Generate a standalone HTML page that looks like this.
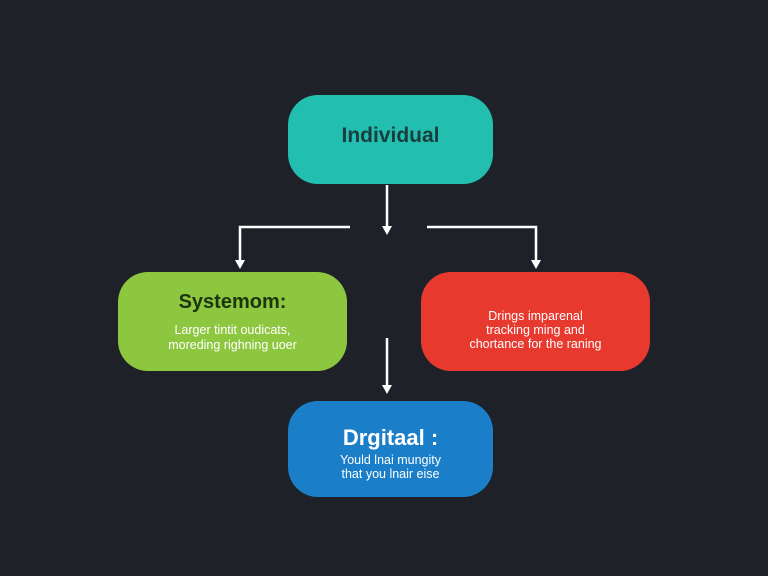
<!DOCTYPE html>
<html><head><style>
body{margin:0;width:768px;height:576px;background:#1e2228;position:relative;overflow:hidden;font-family:"Liberation Sans",sans-serif}
.b{position:absolute;border-radius:30px;text-align:center;box-sizing:border-box}
.t{font-weight:bold}
.s{font-size:12.5px;line-height:15px;color:#fff}
</style></head><body>
<svg width="768" height="576" style="position:absolute;left:0;top:0">
<g stroke="#fff" stroke-width="2.5" fill="none">
<line x1="387" y1="185" x2="387" y2="228"/>
<polyline points="350,227 240,227 240,262"/>
<polyline points="427,227 536,227 536,262"/>
<line x1="387" y1="338" x2="387" y2="388"/>
</g>
<g fill="#fff">
<polygon points="382,226 392,226 387,235"/>
<polygon points="235,260 245,260 240,269"/>
<polygon points="531,260 541,260 536,269"/>
<polygon points="382,385 392,385 387,394"/>
</g>
</svg>
<div class="b" style="left:288px;top:95px;width:205px;height:89px;background:#22bfb0">
<div class="t" style="font-size:21px;color:#1b3d3e;margin-top:29px">Individual</div></div>
<div class="b" style="left:118px;top:272px;width:229px;height:99px;background:#8dc63f">
<div class="t" style="font-size:20px;color:#1e3410;margin-top:19px">Systemom:</div>
<div class="s" style="margin-top:9px">Larger tintit oudicats,<br>moreding righning uoer</div></div>
<div class="b" style="left:421px;top:272px;width:229px;height:99px;background:#e8392f">
<div class="s" style="margin-top:37px;line-height:14px">Drings imparenal<br>tracking ming and<br>chortance for the raning</div></div>
<div class="b" style="left:288px;top:401px;width:205px;height:96px;background:#1a7fc8">
<div class="t" style="font-size:22px;color:#fff;margin-top:24px">Drgitaal :</div>
<div class="s" style="margin-top:2px;line-height:14px">Yould lnai mungity<br>that you lnair eise</div></div>
</body></html>
